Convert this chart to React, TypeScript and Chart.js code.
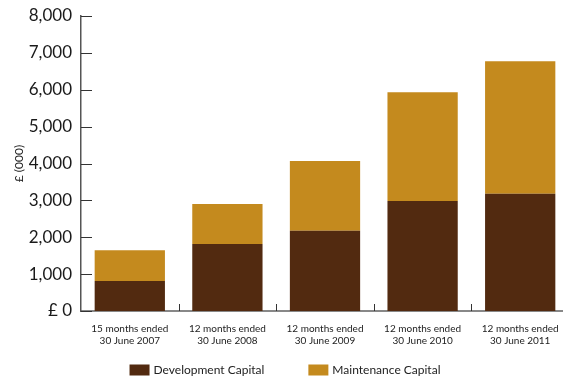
import React, { useEffect, useRef } from 'react';
import { Chart, registerables } from 'chart.js';

Chart.register(...registerables);

const categories: string[][] = [
  ['15 months ended', '30 June 2007'],
  ['12 months ended', '30 June 2008'],
  ['12 months ended', '30 June 2009'],
  ['12 months ended', '30 June 2010'],
  ['12 months ended', '30 June 2011'],
];
const developmentCapital = [815, 1815, 2175, 2980, 3180];
const maintenanceCapital = [835, 1085, 1890, 2955, 3595];
const seriesNames = ['Development Capital', 'Maintenance Capital'];
const seriesColors = ['#522a10', '#c48a1e'];
const yTitle = '£ (000)';
const yMax = 8000;
const yStep = 1000;

const FONT = 'Lato, "Open Sans", sans-serif';

const inwardTicks = {
  id: 'inwardTicks',
  afterDraw(chart: any) {
    const { ctx, chartArea } = chart;
    const y = chart.scales.y;
    const x = chart.scales.x;
    ctx.save();
    ctx.strokeStyle = '#333';
    ctx.lineWidth = 1;
    y.ticks.forEach((t: any) => {
      const py = Math.round(y.getPixelForValue(t.value)) + 0.5;
      ctx.beginPath();
      ctx.moveTo(chartArea.left, py);
      ctx.lineTo(chartArea.left + 11, py);
      ctx.stroke();
    });
    for (let i = 1; i < categories.length; i++) {
      const px = Math.round((x.getPixelForTick(i - 1) + x.getPixelForTick(i)) / 2) + 0.5;
      ctx.beginPath();
      ctx.moveTo(px, chartArea.bottom);
      ctx.lineTo(px, chartArea.bottom - 7);
      ctx.stroke();
    }
    ctx.restore();
  },
};

const customLegend = {
  id: 'customLegend',
  afterDraw(chart: any) {
    const { ctx } = chart;
    ctx.save();
    ctx.font = `12px ${FONT}`;
    ctx.textBaseline = 'middle';
    const boxW = 20, boxH = 11, gapText = 4, gapItems = 44;
    const items = chart.data.datasets.map((d: any) => ({
      label: d.label,
      color: d.backgroundColor,
      w: boxW + gapText + ctx.measureText(d.label).width,
    }));
    const total = items.reduce((s: number, it: any) => s + it.w, 0) + gapItems * (items.length - 1);
    let xPos = 285 - total / 2;
    const cy = 370;
    items.forEach((it: any) => {
      ctx.fillStyle = it.color;
      ctx.fillRect(xPos, cy - boxH / 2, boxW, boxH);
      ctx.fillStyle = '#222';
      ctx.textAlign = 'left';
      ctx.fillText(it.label, xPos + boxW + gapText, cy);
      xPos += it.w + gapItems;
    });
    ctx.restore();
  },
};

export default function App() {
  const ref = useRef<HTMLCanvasElement>(null);
  useEffect(() => {
    if (!ref.current) return;
    const chart = new Chart(ref.current, {
      type: 'bar',
      data: {
        labels: categories,
        datasets: [
          { label: seriesNames[0], data: developmentCapital, backgroundColor: seriesColors[0] },
          { label: seriesNames[1], data: maintenanceCapital, backgroundColor: seriesColors[1] },
        ],
      },
      options: {
        responsive: false,
        animation: false,
        layout: { padding: { top: 16, left: 0, right: 6, bottom: 20 } },
        datasets: { bar: { categoryPercentage: 1, barPercentage: 0.72 } },
        plugins: { legend: { display: false }, tooltip: { enabled: false } },
        scales: {
          x: {
            stacked: true,
            grid: { display: false, drawTicks: false },
            border: { display: true, color: '#888', width: 2 },
            ticks: { font: { family: FONT, size: 10 }, color: '#222', padding: 12, maxRotation: 0 },
            afterFit(scale: any) { scale.height = 45; scale.paddingLeft = 0; scale.paddingRight = 0; },
          },
          y: {
            stacked: true,
            min: 0,
            max: yMax,
            grid: { display: false, drawTicks: false },
            border: { display: true, color: '#555', width: 1.5 },
            ticks: {
              stepSize: yStep,
              padding: 9,
              color: '#1a1a1a',
              font: { family: FONT, size: 17 },
              callback: (v: any) => (v === 0 ? '£ 0' : Number(v).toLocaleString('en-US')),
            },
            title: {
              display: true,
              text: yTitle,
              font: { family: FONT, size: 12 },
              color: '#222',
              padding: { top: 12, bottom: 0 },
            },
            afterFit(scale: any) { scale.width = 81; scale.paddingTop = 0; scale.paddingBottom = 0; },
          },
        },
      },
      plugins: [inwardTicks, customLegend],
    });
    return () => chart.destroy();
  }, []);
  return (
    <div style={{ position: 'fixed', left: 0, top: 0, width: 563, height: 376, overflow: 'hidden', background: '#fff' }}>
      <canvas ref={ref} width={575} height={376} style={{ display: 'block' }} />
    </div>
  );
}
